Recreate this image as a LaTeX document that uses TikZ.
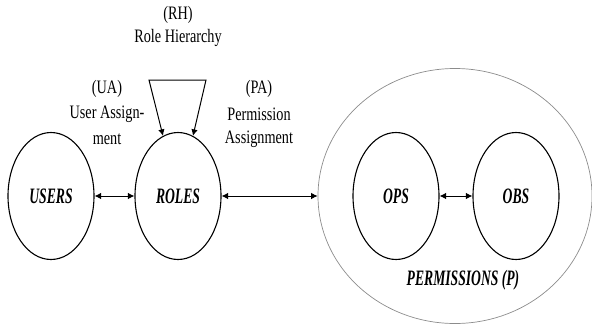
\documentclass[tikz,border=0pt]{standalone}
\usepackage{fontspec}
\setmainfont{Liberation Serif}
\usetikzlibrary{shapes.geometric,arrows.meta}
\tikzset{
  set/.style={draw=black, line width=1.1pt, ellipse, minimum width=86pt, minimum height=127pt, inner sep=0pt},
  setname/.style={font=\fontsize{22}{22}\selectfont\bfseries\itshape, xscale=0.62},
  lbl/.style={font=\fontsize{19}{19}\selectfont, xscale=0.75, inner sep=0pt},
  link/.style={line width=1pt, {Latex[length=6.5pt,width=6.5pt]}-{Latex[length=6.5pt,width=6.5pt]}},
}
\begin{document}
\begin{tikzpicture}[x=1pt,y=-1pt]
\useasboundingbox (0,0) rectangle (592,327);
% the permissions set holding operations and objects
\node[ellipse, draw=black!45, line width=0.7pt, minimum width=274pt, minimum height=255pt, inner sep=0pt] (perm) at (455,196) {};
\node[set] (users) at (51,196) {};
\node[set] (roles) at (178,196) {};
\node[set] (ops) at (396,196) {};
\node[set] (obs) at (516,196) {};
\node[setname] at (users.center) {USERS};
\node[setname] at (roles.center) {ROLES};
\node[setname] at (ops.center) {OPS};
\node[setname] at (obs.center) {OBS};
\node[setname] (pname) at (463,280) {PERMISSIONS (P)};
% assignments
\draw[link] (users.east) -- (roles.west);
\draw[link] (roles.east) -- (perm.west);
\draw[link] (ops.east) -- (obs.west);
% role hierarchy loop
\coordinate (rhl) at (149,80);
\coordinate (rhr) at (206,80);
\draw[link] (roles.104) -- (rhl) -- (rhr) -- (roles.76);
% labels
\node[lbl] (rh1) at (178,15) {(RH)};
\node[lbl] (rh2) at (178,38) {Role Hierarchy};
\node[lbl] (ua1) at (107,89) {(UA)};
\node[lbl] (ua2) at (107,114) {User Assign-};
\node[lbl] (ua3) at (107,139) {ment};
\node[lbl] (pa1) at (259,89) {(PA)};
\node[lbl] (pa2) at (259,114) {Permission};
\node[lbl] (pa3) at (259,139) {Assignment};
\end{tikzpicture}
\end{document}
